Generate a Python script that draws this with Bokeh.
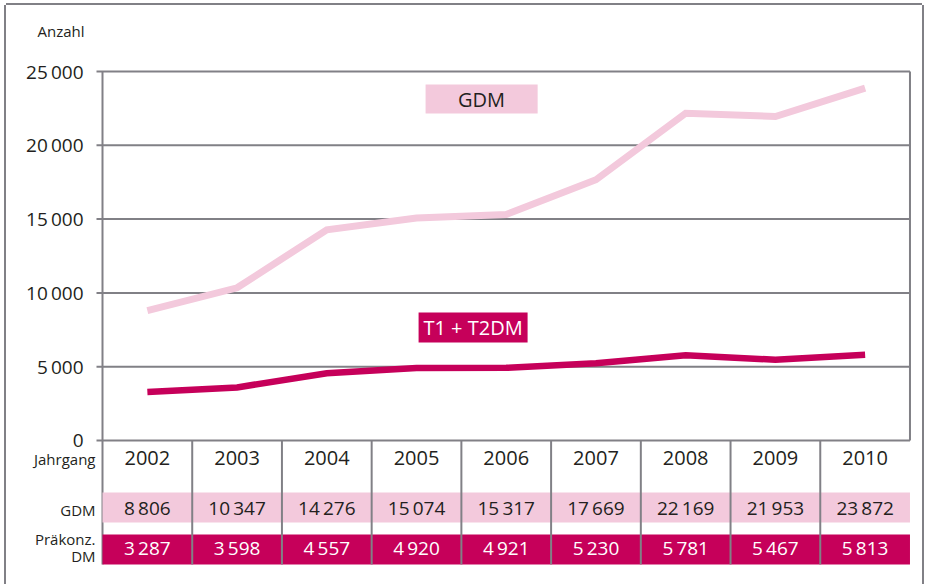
from bokeh.plotting import figure
from bokeh.models import Range1d
from bokeh.core.properties import value
from bokeh.embed import file_html
from bokeh.resources import INLINE

# ---- data ----
years = ["2002", "2003", "2004", "2005", "2006", "2007", "2008", "2009", "2010"]
gdm = [8806, 10347, 14276, 15074, 15317, 17669, 22169, 21953, 23872]
dm = [3287, 3598, 4557, 4920, 4921, 5230, 5781, 5467, 5813]
y_ticks = [0, 5000, 10000, 15000, 20000, 25000]
y_tick_labels = ["0", "5\u2009000", "10\u2009000", "15\u2009000", "20\u2009000", "25\u2009000"]
y_title = "Anzahl"
series_names = ["GDM", "T1 + T2DM"]
row_names = ["Jahrgang", "GDM", "Präkonz.", "DM"]

FONT = "Open Sans"
GRAY = "#818086"
PINK = "#f3c9dc"
CRIMSON = "#c6005a"
DARK = "#231f20"

def fmt(v):
    return f"{v:,}".replace(",", "\u2009")

xs = list(range(len(years)))
n = len(years)

W, H = 916, 579
COL = 89.72          # px per category
PX = 369 / 25000     # px per unit on y
X0, Y0 = 96, 435     # pixel position of x=-0.5 / y=0 inside the canvas

p = figure(width=W, height=H, output_backend="svg", toolbar_location=None,
           x_range=Range1d(-0.5 - X0 / COL, -0.5 + (W - X0) / COL),
           y_range=Range1d(-(H - Y0) / PX, Y0 / PX),
           x_axis_location=None, y_axis_location=None,
           min_border_left=0, min_border_right=0, min_border_top=0, min_border_bottom=0,
           styles={"margin-left": "6px", "margin-top": "5px",
                   "box-shadow": f"-2px 0 0 0 {GRAY}, 2px 0 0 0 {GRAY}, 0 -2px 0 0 {GRAY}"})
p.outline_line_color = None
p.grid.visible = False
p.background_fill_color = "white"
p.border_fill_color = "white"

def dx(px):
    return px / COL

def dy(px):
    return px / PX

TABLE_BOTTOM = -dy(124)

# gridlines with outward ticks
p.segment(x0=[-0.5 - dx(6)] * len(y_ticks), x1=[n - 0.5] * len(y_ticks), y0=y_ticks, y1=y_ticks,
          line_color=GRAY, line_width=2)
# y axis line (continues down through the table)
p.segment(x0=[-0.5], x1=[-0.5], y0=[y_ticks[-1]], y1=[TABLE_BOTTOM], line_color=GRAY, line_width=2)
# right border of plot area
p.segment(x0=[n - 0.5], x1=[n - 0.5], y0=[0], y1=[y_ticks[-1]], line_color=GRAY, line_width=2)
# tick labels
p.text(x=[-0.5 - dx(19)] * len(y_ticks), y=y_ticks, text=y_tick_labels, text_font=value(FONT),
       text_font_size="19px", text_color=DARK, text_align="right", text_baseline="middle")
p.text(x=[-0.5 - dx(18)], y=[dy(410)], text=[y_title], text_font=value(FONT),
       text_font_size="15px", text_color=DARK, text_align="right", text_baseline="middle")

# table bands
p.quad(left=[-0.5], right=[n - 0.5], top=[-dy(52)], bottom=[-dy(82)], fill_color=PINK, line_color=None)
p.quad(left=[-0.5], right=[n - 0.5], top=[-dy(94)], bottom=[TABLE_BOTTOM], fill_color=CRIMSON, line_color=None)

# column dividers
divs = [i + 0.5 for i in range(n - 1)]
p.segment(x0=divs, x1=divs, y0=[0] * len(divs), y1=[TABLE_BOTTOM] * len(divs),
          line_color=GRAY, line_width=2)

# table texts
p.text(x=xs, y=[-dy(17)] * n, text=years, text_font=value(FONT), text_font_size="20px",
       text_color=DARK, text_align="center", text_baseline="middle")
p.text(x=xs, y=[-dy(67)] * n, text=[fmt(v) for v in gdm], text_font=value(FONT), text_font_size="19px",
       text_color=DARK, text_align="center", text_baseline="middle")
p.text(x=xs, y=[-dy(107)] * n, text=[fmt(v) for v in dm], text_font=value(FONT), text_font_size="19px",
       text_color="white", text_align="center", text_baseline="middle")

# row labels
row_y = [-dy(18), -dy(69), -dy(98), -dy(115)]
p.text(x=[-0.5 - dx(7)] * len(row_names), y=row_y, text=row_names, text_font=value(FONT),
       text_font_size="15px", text_color=DARK, text_align="right", text_baseline="middle")

# lines
p.line(xs, gdm, line_color=PINK, line_width=7, line_join="miter")
p.line(xs, dm, line_color=CRIMSON, line_width=6.5, line_join="miter")

# series labels
p.quad(left=[3.101], right=[4.35], bottom=[22154], top=[24119], fill_color=PINK, line_color=None)
p.text(x=[3.725], y=[23136], text=[series_names[0]], text_font=value(FONT), text_font_size="20px",
       text_color=DARK, text_align="center", text_baseline="middle")
p.quad(left=[3.023], right=[4.238], bottom=[6640], top=[8672], fill_color=CRIMSON, line_color=None)
p.text(x=[3.63], y=[7656], text=[series_names[1]], text_font=value(FONT), text_font_size="20px",
       text_color="white", text_align="center", text_baseline="middle")

open("out.html", "w").write(file_html(p, INLINE))
